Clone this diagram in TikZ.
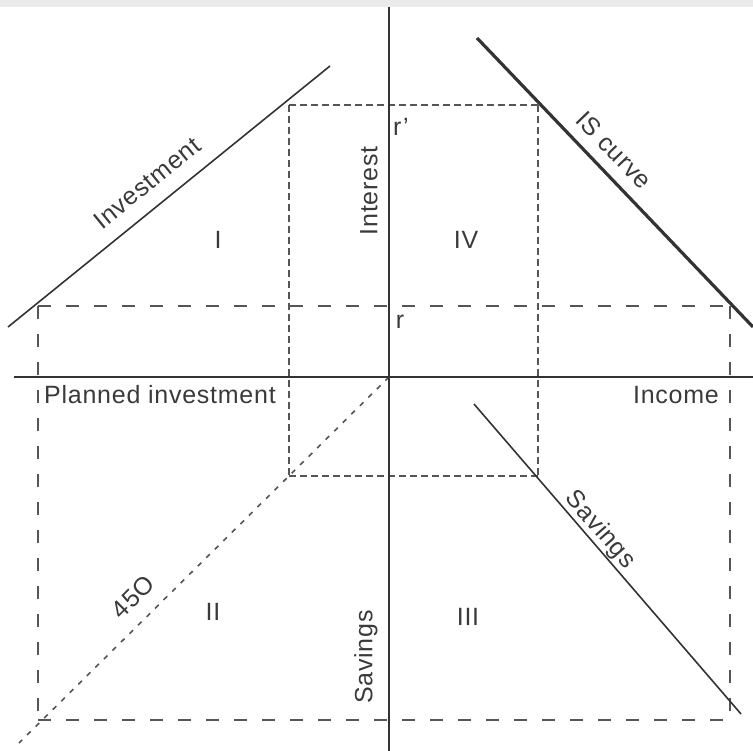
\documentclass[tikz,border=0pt]{standalone}
\usepackage{fontspec}
\setmainfont{Liberation Sans}
\newfontfamily\lblfont[LetterSpace=3]{Liberation Sans}
\definecolor{ink}{HTML}{333333}
\definecolor{dash}{HTML}{555555}
\definecolor{txt}{HTML}{3A3A3A}
\definecolor{band}{HTML}{EBEBEB}
\begin{document}
\begin{tikzpicture}[x=1pt,y=-1pt,
  axis/.style={draw=ink,line width=1.8pt},
  curve/.style={draw=ink,line width=1.6pt},
  iscurve/.style={draw=ink,line width=3.2pt},
  longdash/.style={draw=dash,line width=1.8pt,dash pattern=on 13pt off 15pt},
  shortdash/.style={draw=dash,line width=1.6pt,dash pattern=on 7pt off 4pt},
  dotline/.style={draw=dash,line width=1.6pt,dash pattern=on 5pt off 7pt},
  lbl/.style={text=txt,font=\lblfont\fontsize{25}{28}\selectfont,inner sep=0pt}]
\useasboundingbox (0,0) rectangle (753,751);
\fill[band] (0,0) rectangle (753,7);
% named points
\coordinate (vt) at (389,7);
\coordinate (vb) at (389,751);
\coordinate (hl) at (14,377);
\coordinate (hr) at (753,377);
\coordinate (O) at (389,377);
\coordinate (i1) at (8,327);
\coordinate (i2) at (330,66);
\coordinate (s1) at (477,38);
\coordinate (s2) at (753,327);
\coordinate (v1) at (474,404);
\coordinate (v2) at (741,714);
\coordinate (d2) at (19,743);
\coordinate (a1) at (289,105);
\coordinate (a2) at (538,105);
\coordinate (a3) at (538,476);
\coordinate (a4) at (289,476);
\coordinate (b1) at (38,306);
\coordinate (b2) at (730,306);
\coordinate (b3) at (730,720);
\coordinate (b4) at (38,720);
% dashed guides
\draw[longdash] (b1) -- (b2);
\draw[longdash] (b2) -- (b3);
\draw[longdash] (b4) -- (b3);
\draw[longdash] (b1) -- (b4);
\draw[shortdash] (a1) -- (a2);
\draw[shortdash] (a2) -- (a3);
\draw[shortdash] (a4) -- (a3);
\draw[shortdash] (a1) -- (a4);
\draw[dotline] (O) -- (d2);
% axes
\draw[axis] (vt) -- (vb);
\draw[axis] (hl) -- (hr);
% curves
\draw[curve] (i1) -- (i2);
\draw[iscurve] (s1) -- (s2);
\draw[curve] (v1) -- (v2);
% labels
\node[lbl,rotate=39] (linv) at (147,183) {Investment};
\node[lbl,rotate=-46] (lis) at (614,150) {IS curve};
\node[lbl,rotate=-49] (lsav) at (600,530) {Savings};
\node[lbl,rotate=45] (l45) at (133,597) {45O};
\node[lbl] (q1) at (218,240) {I};
\node[lbl] (q4) at (466,240) {IV};
\node[lbl] (q2) at (213,612) {II};
\node[lbl] (q3) at (468,617) {III};
\node[lbl] (rp) at (401,127) {r’};
\node[lbl] (r) at (400,322) {r};
\node[lbl] (lpi) at (160,395) {Planned investment};
\node[lbl] (linc) at (676,395) {Income};
\node[lbl,rotate=90] (lint) at (369,191) {Interest};
\node[lbl,rotate=90] (lsv) at (366,657) {Savings};
\end{tikzpicture}
\end{document}
